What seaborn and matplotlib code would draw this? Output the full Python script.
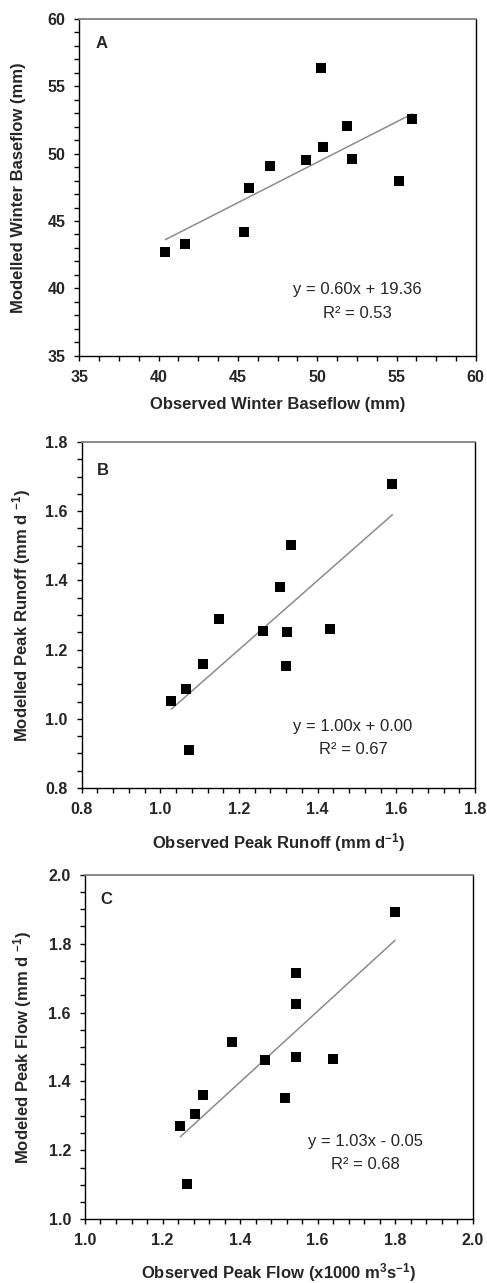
import numpy as np
import pandas as pd
import seaborn as sns
import matplotlib
matplotlib.use("Agg")
import matplotlib.pyplot as plt
from matplotlib.ticker import MultipleLocator

# ---- data ----
obs_a = [40.42, 41.68, 45.40, 45.71, 47.04, 49.31, 50.21, 50.36, 51.89, 52.20, 55.17, 55.99]
mod_a = [42.67, 43.27, 44.16, 47.43, 49.06, 49.50, 56.34, 50.47, 52.03, 49.58, 47.97, 52.55]

obs_b = [1.028, 1.064, 1.072, 1.109, 1.150, 1.262, 1.303, 1.319, 1.323, 1.331, 1.432, 1.590]
mod_b = [1.051, 1.085, 0.909, 1.157, 1.288, 1.255, 1.380, 1.152, 1.250, 1.503, 1.259, 1.680]

obs_c = [1.246, 1.264, 1.285, 1.305, 1.380, 1.465, 1.517, 1.543, 1.543, 1.543, 1.640, 1.800]
mod_c = [1.270, 1.103, 1.305, 1.360, 1.515, 1.461, 1.351, 1.716, 1.624, 1.472, 1.466, 1.893]

slopes = [0.60, 1.00, 1.03]
intercepts = [19.36, 0.00, -0.044]
eq_texts = ["y = 0.60x + 19.36", "y = 1.00x + 0.00", "y = 1.03x - 0.05"]
r2_texts = ["R\u00b2 = 0.53", "R\u00b2 = 0.67", "R\u00b2 = 0.68"]
panel_letters = ["A", "B", "C"]
xlabels = ["Observed Winter Baseflow (mm)",
           r"Observed Peak Runoff (mm d$^{\mathbf{-1}}$)",
           r"Observed Peak Flow (x1000 m$^{\mathbf{3}}$s$^{\mathbf{-1}}$)"]
ylabels = ["Modelled Winter Baseflow (mm)",
           r"Modelled Peak Runoff (mm d $^{\mathbf{-1}}$)",
           r"Modeled Peak Flow (mm d $^{\mathbf{-1}}$)"]

sns.set_theme(style="ticks")
plt.rcParams['font.family'] = ['Liberation Sans', 'DejaVu Sans']
plt.rcParams['mathtext.fontset'] = 'custom'
plt.rcParams['mathtext.rm'] = 'Liberation Sans'
plt.rcParams['mathtext.bf'] = 'Liberation Sans:bold'
plt.rcParams['mathtext.it'] = 'Liberation Sans:italic'

fig = plt.figure(figsize=(4.87, 12.83), dpi=100)
boxes = [
    (0.163, 0.7228, 0.977 - 0.163, 0.9852 - 0.7228),
    (0.1677, 0.3858, 0.9754 - 0.1677, 0.6555 - 0.3858),
    (0.1745, 0.0497, 0.9706 - 0.1745, 0.3182 - 0.0497),
]
limits = [((35, 60), (35, 60)), ((0.8, 1.8), (0.8, 1.8)), ((1.0, 2.0), (1.0, 2.0))]
majors = [(5, 5), (0.2, 0.2), (0.2, 0.2)]
minors = [(1.25, 1.0), (0.04, 0.05), (0.04, 0.05)]
tickfmt = ["{:.0f}", "{:.1f}", "{:.1f}"]
eq_pos = [(0.702, 0.195, 0.126), (0.69, 0.179, 0.11), (0.723, 0.227, 0.158)]
letter_pos = [(0.056, 0.928), (0.053, 0.919), (0.054, 0.927)]
xlabel_y = [-0.1464, -0.159, -0.156]
ylabel_x = [-0.1545, -0.152, -0.16]

datasets = [(obs_a, mod_a), (obs_b, mod_b), (obs_c, mod_c)]

for i, (xs, ys) in enumerate(datasets):
    ax = fig.add_axes(boxes[i])
    df = pd.DataFrame({"obs": xs, "mod": ys})
    xr = np.array([min(xs), max(xs)])
    line_df = pd.DataFrame({"x": xr, "y": slopes[i] * xr + intercepts[i]})
    sns.lineplot(data=line_df, x="x", y="y", ax=ax, color="#8c8c8c", linewidth=1.1)
    sns.scatterplot(data=df, x="obs", y="mod", ax=ax, marker="s", color="black",
                    s=55, linewidth=0, zorder=3)
    (x0, x1), (y0, y1) = limits[i]
    ax.xaxis.set_major_locator(MultipleLocator(majors[i][0]))
    ax.yaxis.set_major_locator(MultipleLocator(majors[i][1]))
    ax.xaxis.set_minor_locator(MultipleLocator(minors[i][0]))
    ax.yaxis.set_minor_locator(MultipleLocator(minors[i][1]))
    ax.set_xlim(x0, x1)
    ax.set_ylim(y0, y1)
    ax.xaxis.set_major_formatter(matplotlib.ticker.FuncFormatter(lambda v, p, f=tickfmt[i]: f.format(v)))
    ax.yaxis.set_major_formatter(matplotlib.ticker.FuncFormatter(lambda v, p, f=tickfmt[i]: f.format(v)))
    ax.tick_params(which="both", direction="out", length=3.6, width=1, color="black",
                   labelsize=11.5, pad=6.5)
    for lab in ax.get_xticklabels() + ax.get_yticklabels():
        lab.set_fontweight("bold")
    for s in ["left", "bottom", "right"]:
        ax.spines[s].set_visible(True)
        ax.spines[s].set_color("black")
        ax.spines[s].set_linewidth(1)
    ax.spines["top"].set_visible(True)
    ax.spines["top"].set_color("#808080")
    ax.spines["top"].set_linewidth(1.3)
    ax.set_xlabel(xlabels[i], fontsize=12, fontweight="bold", va="center")
    ax.set_ylabel(ylabels[i], fontsize=12, fontweight="bold", va="center")
    ax.xaxis.set_label_coords(0.5, xlabel_y[i])
    ax.yaxis.set_label_coords(ylabel_x[i], 0.5)
    ex, ey1, ey2 = eq_pos[i]
    ax.text(ex, ey1, eq_texts[i], transform=ax.transAxes, ha="center", va="center", fontsize=12)
    ax.text(ex, ey2, r2_texts[i], transform=ax.transAxes, ha="center", va="center", fontsize=12)
    lx, ly = letter_pos[i]
    ax.text(lx, ly, panel_letters[i], transform=ax.transAxes, ha="center", va="center",
            fontsize=12, fontweight="bold")

fig.savefig("out.png", dpi=100)
